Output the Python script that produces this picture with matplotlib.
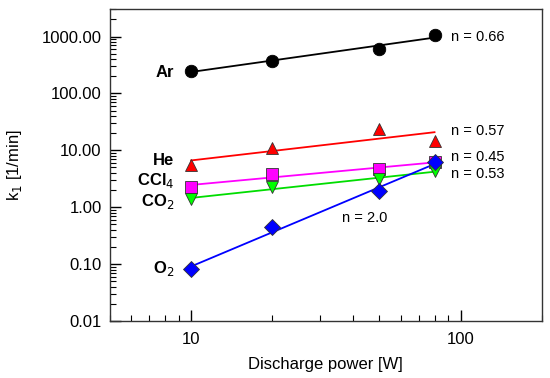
import matplotlib
import numpy as np

matplotlib.use("Agg")
import matplotlib.pyplot as plt
from matplotlib.ticker import FixedLocator, LogLocator, NullFormatter, FuncFormatter

plt.rcParams["font.family"] = ["Liberation Sans", "DejaVu Sans"]

power = [10, 20, 50, 80]
gases = ["Ar", "He", "CCl$_4$", "CO$_2$", "O$_2$"]
k1 = {
    "Ar": [252, 367, 607, 1084],
    "He": [5.6, 11.0, 23.7, 14.8],
    "CCl$_4$": [2.26, 3.87, 4.69, 6.12],
    "CO$_2$": [1.39, 2.26, 3.13, 4.26],
    "O$_2$": [0.082, 0.447, 1.89, 6.12],
}
n_labels = ["n = 0.66", "n = 0.57", "n = 0.45", "n = 0.53", "n = 2.0"]

colors = {"Ar": "black", "He": "#ff0000", "CCl$_4$": "#ff00ff", "CO$_2$": "#00ff00", "O$_2$": "#0000ff"}
line_colors = {"Ar": "black", "He": "#ff0000", "CCl$_4$": "#ff00ff", "CO$_2$": "#00dd00", "O$_2$": "#0000ff"}
markers = {"Ar": "o", "He": "^", "CCl$_4$": "s", "CO$_2$": "v", "O$_2$": "D"}
msize = {"Ar": 9, "He": 9, "CCl$_4$": 8, "CO$_2$": 9, "O$_2$": 8}
# vertical nudge of the gas names (points)
name_dy = {"Ar": -1, "He": 3, "CCl$_4$": 5, "CO$_2$": -2, "O$_2$": 0}

fig = plt.figure(figsize=(5.5, 3.78), dpi=100)
ax = fig.add_axes([0.2, 0.151, 0.785, 0.824])
ax.set_xscale("log")
ax.set_yscale("log")
ax.set_xlim(5, 200)
ax.set_ylim(0.01, 3000)

x = np.array(power, dtype=float)
xl = np.log10(x)
for g in gases:
    y = np.array(k1[g])
    slope, icpt = np.polyfit(xl, np.log10(y), 1)
    xf = np.array([x[0], x[-1]])
    ax.plot(xf, 10 ** (icpt + slope * np.log10(xf)), color=line_colors[g], lw=1.3, zorder=2)
    ax.plot(x, y, ls="none", marker=markers[g], ms=msize[g], mfc=colors[g],
            mec="#333333" if g != "Ar" else "black", mew=0.6, zorder=3)
    ax.annotate(g, (x[0], y[0]), xytext=(-12, name_dy[g]), textcoords="offset points",
                ha="right", va="center", fontsize=12, fontweight="bold")

# exponent labels
ann = [("Ar", 1084, 12, -2), ("He", 14.8, 12, 7), ("CCl$_4$", 6.12, 12, 4), ("CO$_2$", 4.26, 12, -2)]
for (g, yv, dx, dy), lab in zip(ann, n_labels[:4]):
    ax.annotate(lab, (80, yv), xytext=(dx, dy), textcoords="offset points",
                ha="left", va="center", fontsize=10.5)
ax.annotate(n_labels[4], (50, 1.89), xytext=(-27, -19), textcoords="offset points",
            ha="left", va="center", fontsize=10.5)

ax.xaxis.set_major_locator(FixedLocator([10, 100]))
ax.xaxis.set_major_formatter(FuncFormatter(lambda v, p: f"{v:g}"))
ax.xaxis.set_minor_locator(LogLocator(base=10, subs=np.arange(2, 10)))
ax.xaxis.set_minor_formatter(NullFormatter())
ax.yaxis.set_major_locator(FixedLocator([0.01, 0.1, 1, 10, 100, 1000]))
ax.yaxis.set_major_formatter(FuncFormatter(lambda v, p: f"{v:.2f}"))
ax.yaxis.set_minor_locator(LogLocator(base=10, subs=np.arange(2, 10), numticks=20))
ax.yaxis.set_minor_formatter(NullFormatter())
ax.tick_params(which="major", direction="in", length=8, width=1, labelsize=12, pad=6)
ax.tick_params(axis="x", which="major", pad=8)
ax.tick_params(which="minor", direction="in", length=4, width=0.8)
ax.tick_params(top=False, right=False, which="both")
for s in ax.spines.values():
    s.set_color("#333333")
    s.set_linewidth(1)

ax.set_xlabel("Discharge power [W]", fontsize=12, labelpad=7)
ax.set_ylabel("k$_1$ [1/min]", fontsize=12, labelpad=13)

fig.savefig("out.png", dpi=100)
